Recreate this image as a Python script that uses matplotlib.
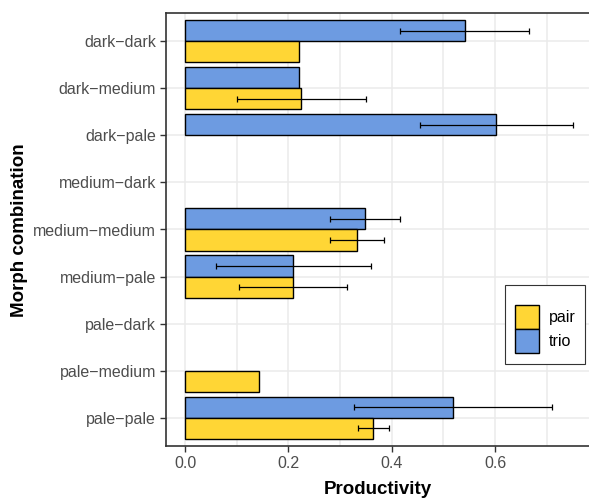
import numpy as np
import matplotlib
matplotlib.use("Agg")
import matplotlib.pyplot as plt
from matplotlib.patches import Rectangle

plt.rcParams['font.family'] = ['Liberation Sans', 'DejaVu Sans']

categories = ["dark\u2212dark", "dark\u2212medium", "dark\u2212pale", "medium\u2212dark",
              "medium\u2212medium", "medium\u2212pale", "pale\u2212dark", "pale\u2212medium", "pale\u2212pale"]
nan = np.nan
series_names = ["pair", "trio"]
pair_vals = [0.221, 0.225, nan, nan, 0.333, 0.209, nan, 0.143, 0.364]
pair_lo = [nan, 0.101, nan, nan, 0.281, 0.105, nan, nan, 0.334]
pair_hi = [nan, 0.350, nan, nan, 0.385, 0.314, nan, nan, 0.394]
trio_vals = [0.541, 0.221, 0.602, nan, 0.348, 0.209, nan, nan, 0.519]
trio_lo = [0.416, nan, 0.454, nan, 0.281, 0.059, nan, nan, 0.326]
trio_hi = [0.666, nan, 0.750, nan, 0.415, 0.359, nan, nan, 0.711]
x_ticks = [0.0, 0.2, 0.4, 0.6]
x_ticklabels = ["0.0", "0.2", "0.4", "0.6"]

colors = {"pair": "#FFD635", "trio": "#6D9BE1"}

W, H = 589, 498
fig = plt.figure(figsize=(W / 100, H / 100), dpi=100)

def fx(x):
    return x / W

def fy(y):
    return 1 - y / H

left, right, top, bottom = 165.7, 592.0, 13.0, 446.0
ax = fig.add_axes([fx(left), fy(bottom), (right - left) / W, (bottom - top) / H])

n = len(categories)
ypos = np.arange(n)
bh = 0.45
series = [
    ("trio", trio_vals, trio_lo, trio_hi, -bh / 2),
    ("pair", pair_vals, pair_lo, pair_hi, bh / 2),
]
for name, vals, lo, hi, off in series:
    vals = np.array(vals, float); lo = np.array(lo, float); hi = np.array(hi, float)
    m = ~np.isnan(vals)
    ax.barh(ypos[m] + off, vals[m], height=bh, color=colors[name],
            edgecolor="black", linewidth=1.0, zorder=3)
    e = ~np.isnan(lo)
    ax.errorbar((lo[e] + hi[e]) / 2, ypos[e] + off, xerr=(hi[e] - lo[e]) / 2,
                fmt="none", ecolor="black", elinewidth=0.9, capsize=2.3,
                capthick=0.9, zorder=4)

ax.set_ylim(n - 1 + 0.6, -0.6)
ax.set_xlim(-0.0375, 0.7875)
ax.set_yticks(ypos)
ax.set_yticklabels(categories)
ax.set_xticks(x_ticks)
ax.set_xticklabels(x_ticklabels)
ax.set_xticks([0.1, 0.3, 0.5, 0.7], minor=True)
ax.grid(True, which="major", color="#EBEBEB", linewidth=1.1, zorder=0)
ax.grid(True, which="minor", axis="x", color="#EBEBEB", linewidth=1.1, zorder=0)
ax.set_axisbelow(True)
ax.tick_params(axis="both", which="major", labelsize=11.5, labelcolor="#4D4D4D",
               color="#333333", length=4, width=1.0, pad=3)
ax.tick_params(axis="x", which="minor", length=0)
for s in ax.spines.values():
    s.set_color("#333333")
    s.set_linewidth(1.2)

fig.text(fx(378), fy(489), "Productivity", fontsize=13.5, fontweight="bold",
         ha="center", va="center")
fig.text(fx(20), fy(230), "Morph combination", rotation=90, fontsize=13.5,
         fontweight="bold", ha="center", va="center")

# legend
fig.patches.append(Rectangle((fx(505), fy(364)), (585 - 505) / W, (364 - 285) / H,
                             transform=fig.transFigure, facecolor="white",
                             edgecolor="#333333", linewidth=0.8, zorder=5))
for i, name in enumerate(series_names):
    y0 = 305 + i * 24.5
    fig.patches.append(Rectangle((fx(515), fy(y0 + 24)), 24 / W, 24 / H,
                                 transform=fig.transFigure, facecolor=colors[name],
                                 edgecolor="black", linewidth=1.0, zorder=6))
    fig.text(fx(549), fy(y0 + 12), name, fontsize=11.5, color="black",
             ha="left", va="center", zorder=7)

fig.savefig("out.png", dpi=100)
